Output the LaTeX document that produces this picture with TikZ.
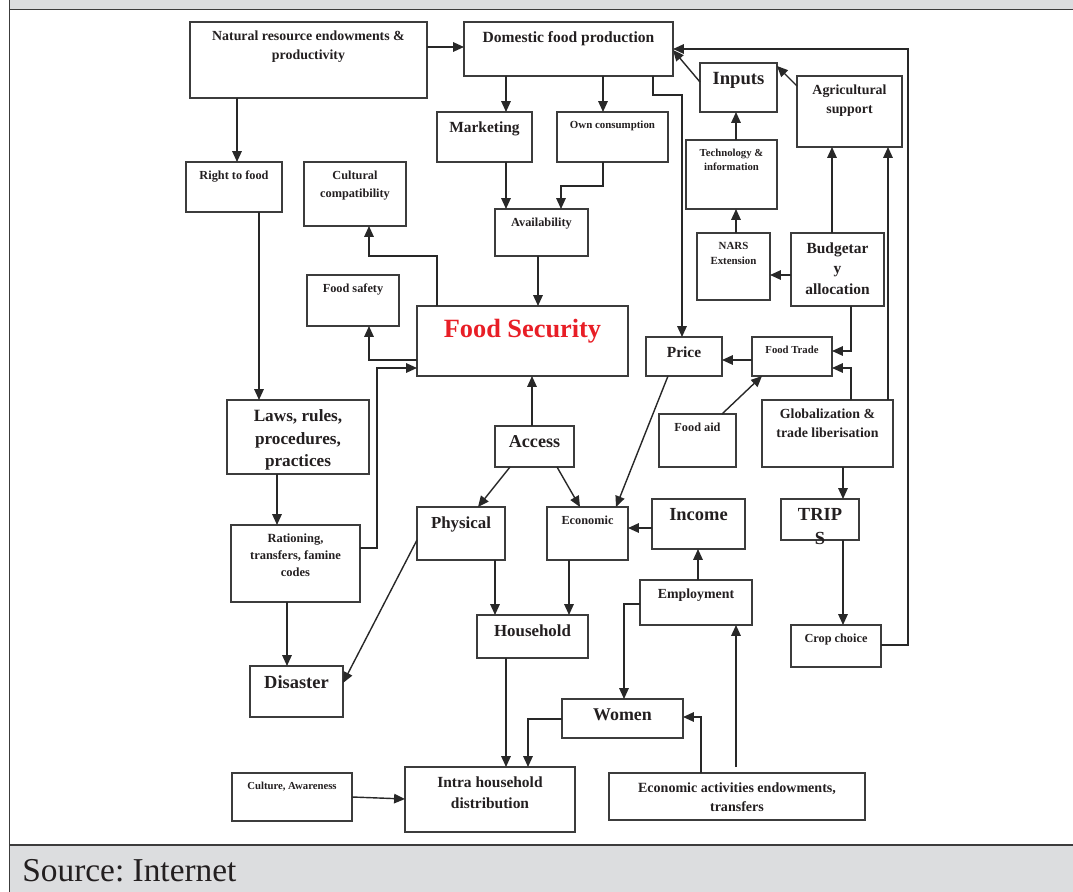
\documentclass[tikz,border=0pt]{standalone}
\usepackage{fontspec}
\setmainfont{Liberation Serif}
\usetikzlibrary{arrows.meta}

\definecolor{fsred}{RGB}{232,30,38}
\definecolor{bandgray}{RGB}{220,221,223}
\definecolor{linegray}{RGB}{40,40,40}
\definecolor{boxgray}{RGB}{60,60,60}
\definecolor{txtblack}{RGB}{35,31,32}

\newlength{\px}\setlength{\px}{0.02cm}
\newcommand{\fsz}[2]{\fontsize{#1}{#2}\selectfont\bfseries}
% box from (x1,y1) to (x2,y2) in pixels, text at the top
\newcommand{\fsbox}[7]{%
  \node[box] (#1) at ({(#2+#4)/2},{(#3+#5)/2})
    {\parbox[c][\dimexpr#5\px-#3\px\relax][t]{\dimexpr#4\px-#2\px\relax}{\centering\vspace*{5.3pt}#6#7\par}};}

\begin{document}
\begin{tikzpicture}[
  x=0.02cm, y=-0.02cm,
  box/.style={draw=boxgray, line width=0.75pt, inner sep=0pt, outer sep=0pt, text=txtblack},
  arrow/.style={->, >={Triangle[length=6.2pt,width=5.4pt]}, line width=0.8pt, draw=linegray},
  line/.style={-, line width=0.8pt, draw=linegray},
  frame/.style={line width=0.8pt, draw=boxgray}]

  \useasboundingbox (0,0) rectangle (1073,892);

  % frame and bands
  \fill[bandgray] (9.5,0) rectangle (1073,9.5);
  \fill[bandgray] (9.5,845) rectangle (1073,892);
  \draw[frame] (9.5,0) -- (9.5,892);
  \draw[frame] (9.5,9.5) -- (1073,9.5);
  \draw[frame] (9.5,845) -- (1073,845);
  \node[anchor=base west, inner sep=0pt, text=txtblack, font=\fontsize{19}{22}\selectfont] (source) at (22,881) {Source:\ Internet};

  % Position the boxes
  \fsbox{nat}{190}{22}{427}{98}{\fsz{7.9}{10.5}}{Natural resource endowments \&\\productivity}
  \fsbox{dom}{464}{22}{673}{76}{\fsz{8.85}{11}}{Domestic food production}
  \fsbox{mkt}{437}{112}{532}{162}{\fsz{8.8}{11}}{Marketing}
  \fsbox{own}{557}{112}{668}{162}{\fsz{6.2}{8}}{Own consumption}
  \fsbox{right}{186}{162}{282}{212}{\fsz{7}{9}}{Right to food}
  \fsbox{cult}{304}{162}{406}{226}{\fsz{7}{9.9}}{Cultural\\compatibility}
  \fsbox{avail}{495}{209}{588}{256}{\fsz{7}{9}}{Availability}
  \fsbox{safety}{307}{275}{399}{326}{\fsz{7}{9}}{Food safety}
  \fsbox{fs}{417}{306}{628}{376}{\fsz{15}{18}\vspace*{2.5pt}}{\textcolor{fsred}{Food Security}}
  \fsbox{inputs}{700}{63}{777}{112}{\fsz{10.6}{13}}{Inputs}
  \fsbox{agri}{797}{76}{902}{147}{\fsz{7.9}{10.4}}{Agricultural\\support}
  \fsbox{tech}{686}{140}{777}{209}{\fsz{6.1}{8}}{Technology \&\\information}
  \fsbox{nars}{697}{233}{770}{300}{\fsz{6.2}{8.3}}{NARS\\Extension}
  \fsbox{budget}{791}{233}{884}{306}{\fsz{8.8}{11.7}}{Budgetar\\y\\allocation}
  \fsbox{price}{646}{337}{722}{376}{\fsz{8.8}{11}}{Price}
  \fsbox{trade}{752}{337}{832}{376}{\fsz{6.1}{8}}{Food Trade}
  \fsbox{aid}{659}{414}{736}{467}{\fsz{7}{9}}{Food aid}
  \fsbox{glob}{762}{400}{893}{467}{\fsz{7.9}{10.4}}{Globalization \&\\trade liberisation}
  \fsbox{laws}{227}{400}{369}{474}{\fsz{9.8}{13}}{Laws, rules,\\procedures,\\practices}
  \fsbox{access}{495}{426}{574}{467}{\fsz{10.3}{12}}{Access}
  \fsbox{ration}{231}{525}{360}{602}{\fsz{7.1}{9.5}}{Rationing,\\transfers, famine\\codes}
  \fsbox{phys}{417}{507}{505}{560}{\fsz{9.6}{12}}{Physical}
  \fsbox{econ}{547}{507}{628}{560}{\fsz{7}{9}}{Economic}
  \fsbox{house}{477}{615}{588}{658}{\fsz{9.6}{12}}{Household}
  \fsbox{disaster}{250}{666}{343}{717}{\fsz{10.5}{12}}{Disaster}
  \fsbox{income}{652}{499}{745}{549}{\fsz{10.5}{12}}{Income}
  \fsbox{trips}{781}{499}{859}{540}{\fsz{10.5}{13.7}}{TRIP\\S}
  \fsbox{employ}{640}{580}{752}{625}{\fsz{7.9}{10}}{Employment}
  \fsbox{crop}{791}{625}{881}{667}{\fsz{7}{9}}{Crop choice}
  \fsbox{women}{562}{699}{683}{738}{\fsz{10.2}{12}}{Women}
  \fsbox{culture}{232}{773}{352}{821}{\fsz{6.1}{8}}{Culture, Awareness}
  \fsbox{intra}{405}{767}{575}{832}{\fsz{8.8}{12.3}}{Intra household\\distribution}
  \fsbox{ecact}{609}{773}{865}{820}{\fsz{8}{10.8}}{Economic activities endowments,\\transfers}

  % Draw the connectors
  \draw[arrow] (nat.east |- 0,47) -- (dom.west |- 0,47);
  \draw[arrow] (237,0 |- nat.south) -- (237,0 |- right.north);
  \draw[arrow] (506,0 |- dom.south) -- (506,0 |- mkt.north);
  \draw[arrow] (603,0 |- dom.south) -- (603,0 |- own.north);
  \draw[arrow] (506,0 |- mkt.south) -- (506,0 |- avail.north);
  \draw[arrow] (603,0 |- own.south) |- (561,186) -- (561,0 |- avail.north);
  \draw[arrow] (538,0 |- avail.south) -- (538,0 |- fs.north);
  \draw[arrow] (437,0 |- fs.north) |- (369,256) -- (369,0 |- cult.south);
  \draw[arrow] (fs.west |- 0,360) -| (369,0 |- safety.south);
  \draw[arrow] (ration.east |- 0,548) -| (377,368) -- (fs.west |- 0,368);
  \draw[arrow] (532,0 |- access.north) -- (532,0 |- fs.south);
  \draw[arrow] (510,0 |- access.south) -- (478,0 |- phys.north);
  \draw[arrow] (557,0 |- access.south) -- (580,0 |- econ.north);
  \draw[arrow] (259,0 |- right.south) -- (259,0 |- laws.north);
  \draw[arrow] (277,0 |- laws.south) -- (277,0 |- ration.north);
  \draw[arrow] (287,0 |- ration.south) -- (287,0 |- disaster.north);
  \draw[arrow] (phys.west |- 0,540) -- (disaster.east |- 0,683);
  \draw[arrow] (495,0 |- phys.south) -- (495,0 |- house.north);
  \draw[arrow] (569,0 |- econ.south) -- (569,0 |- house.north);
  \draw[arrow] (506,0 |- house.south) -- (506,0 |- intra.north);
  \draw[arrow] (women.west |- 0,719) -| (528,0 |- intra.north);
  \draw[arrow] (culture.east |- 0,797) -- (intra.west |- 0,799);
  \draw[arrow] (701,0 |- ecact.north) |- (women.east |- 0,717);
  \draw[arrow] (736,767) -- (736,0 |- employ.south);
  \draw[arrow] (employ.west |- 0,604) -| (624,0 |- women.north);
  \draw[arrow] (698,0 |- employ.north) -- (698,0 |- income.south);
  \draw[arrow] (income.west |- 0,528) -- (econ.east |- 0,528);
  \draw[arrow] (668,0 |- price.south) -- (616,0 |- econ.north);
  \draw[arrow] (653,0 |- dom.south) |- (682,95) -- (682,0 |- price.north);
  \draw[arrow] (trade.west |- 0,360) -- (price.east |- 0,360);
  \draw[arrow] (722,0 |- aid.north) -- (762,0 |- trade.south);
  \draw[arrow] (851,0 |- budget.south) |- (trade.east |- 0,351);
  \draw[arrow] (851,0 |- glob.north) |- (trade.east |- 0,368);
  \draw[arrow] (888,0 |- glob.north) -- (888,0 |- agri.south);
  \draw[arrow] (843,0 |- glob.south) -- (843,0 |- trips.north);
  \draw[arrow] (843,0 |- trips.south) -- (843,0 |- crop.north);
  \draw[arrow] (crop.east |- 0,645) -| (908,49) -- (dom.east |- 0,49);
  \draw[arrow] (832,0 |- budget.north) -- (832,0 |- agri.south);
  \draw[arrow] (budget.west |- 0,275) -- (nars.east |- 0,275);
  \draw[arrow] (736,0 |- nars.north) -- (736,0 |- tech.south);
  \draw[arrow] (736,0 |- tech.north) -- (736,0 |- inputs.south);
  \draw[arrow] (inputs.west |- 0,82) -- (dom.east |- 0,50);
  \draw[arrow] (agri.west |- 0,86) -- (inputs.east |- 0,66);

\end{tikzpicture}
\end{document}
